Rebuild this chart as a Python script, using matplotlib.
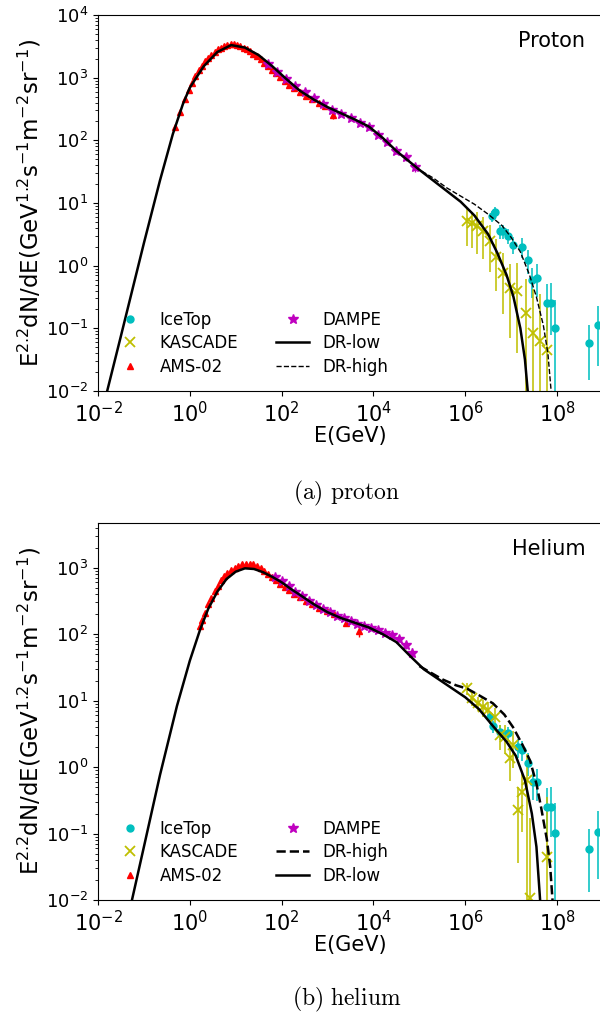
import numpy as np
import matplotlib
matplotlib.use("Agg")
import matplotlib.pyplot as plt

# ---- proton: log10(E/GeV) and log10(E^2.2 dN/dE) ----
p_low_logE = [-1.8, -1.5, -1.0, -0.65, -0.37, -0.15, 0.0, 0.3, 0.6, 0.9, 1.2, 1.5, 1.8, 2.1,
              2.4, 2.7, 3.0, 3.3, 3.6, 3.9, 4.2, 4.5, 4.8, 5.0, 5.3, 5.6, 5.9, 6.2, 6.5, 6.7,
              6.9, 7.05, 7.2, 7.3, 7.36, 7.4]
p_low_logF = [-2.0, -1.12, 0.36, 1.36, 2.10, 2.58, 2.84, 3.18, 3.41, 3.52, 3.48, 3.36, 3.18,
              2.98, 2.79, 2.65, 2.53, 2.43, 2.33, 2.22, 2.04, 1.83, 1.65, 1.53, 1.36, 1.19,
              1.02, 0.8, 0.5, 0.2, -0.15, -0.5, -1.0, -1.5, -2.0, -2.4]
p_high_logE = [4.8, 5.0, 5.3, 5.6, 5.9, 6.2, 6.5, 6.8, 7.0, 7.2, 7.4, 7.55, 7.7, 7.8, 7.87, 7.9]
p_high_logF = [1.65, 1.53, 1.40, 1.24, 1.11, 0.98, 0.82, 0.64, 0.45, 0.22, -0.15, -0.5, -0.95,
               -1.4, -2.0, -2.3]

p_ams_logE = [-0.32, -0.21, -0.10, -0.02, 0.05, 0.12, 0.19, 0.26, 0.33, 0.40, 0.47, 0.54, 0.61,
              0.68, 0.75, 0.82, 0.89, 0.96, 1.03, 1.10, 1.17, 1.24, 1.31, 1.38, 1.46, 1.54, 1.62,
              1.70, 1.79, 1.88, 1.97, 2.07, 2.17, 2.28, 2.40, 2.53, 2.67, 2.82, 2.95, 3.12]
p_ams_logF = [2.22, 2.45, 2.66, 2.80, 2.92, 3.02, 3.12, 3.19, 3.26, 3.31, 3.36, 3.41, 3.45, 3.48,
              3.51, 3.52, 3.53, 3.53, 3.52, 3.50, 3.48, 3.45, 3.42, 3.38, 3.34, 3.29, 3.24, 3.19,
              3.13, 3.07, 3.01, 2.95, 2.89, 2.83, 2.77, 2.71, 2.66, 2.60, 2.55, 2.40]
p_ams_err = [0.02] * 34 + [0.02, 0.02, 0.03, 0.03, 0.04, 0.06]

p_dampe_logE = [1.70, 1.90, 2.10, 2.30, 2.50, 2.70, 2.90, 3.10, 3.30, 3.50, 3.70, 3.90, 4.10,
                4.30, 4.50, 4.70, 4.90]
p_dampe_logF = [3.22, 3.09, 2.98, 2.87, 2.77, 2.67, 2.58, 2.49, 2.42, 2.36, 2.28, 2.21, 2.09,
                1.97, 1.83, 1.73, 1.57]
p_dampe_err = [0.02, 0.02, 0.02, 0.02, 0.02, 0.02, 0.02, 0.02, 0.03, 0.03, 0.03, 0.04, 0.04,
               0.05, 0.05, 0.06, 0.07]

p_kas_logE = [6.04, 6.15, 6.26, 6.39, 6.53, 6.68, 6.83, 6.98, 7.13, 7.33, 7.48, 7.63, 7.78]
p_kas_logF = [0.72, 0.68, 0.63, 0.56, 0.40, 0.14, -0.12, -0.35, -0.40, -0.76, -1.07, -1.20, -1.35]
p_kas_lo = [0.40, 0.40, 0.45, 0.45, 0.50, 0.55, 0.65, 0.80, 1.00, 1.60, 2.00, 2.00, 2.00]
p_kas_hi = [0.18, 0.18, 0.22, 0.22, 0.25, 0.28, 0.32, 0.38, 0.45, 0.55, 0.70, 0.75, 0.80]

p_ice_logE = [6.58, 6.64, 6.76, 6.83, 6.93, 7.04, 7.23, 7.37, 7.45, 7.56, 7.78, 7.86, 7.95,
              8.70, 8.90]
p_ice_logF = [0.80, 0.85, 0.55, 0.55, 0.48, 0.33, 0.30, 0.09, -0.23, -0.20, -0.60, -0.60,
              -1.00, -1.23, -0.95]
p_ice_lo = [0.10, 0.10, 0.12, 0.12, 0.14, 0.15, 0.18, 0.22, 0.28, 0.30, 0.45, 0.50, 1.20,
            0.60, 0.65]
p_ice_hi = [0.08, 0.08, 0.10, 0.10, 0.11, 0.12, 0.14, 0.16, 0.20, 0.22, 0.30, 0.32, 0.45,
            0.28, 0.30]

# ---- helium ----
h_low_logE = [-1.26, -1.0, -0.65, -0.28, 0.0, 0.22, 0.4, 0.6, 0.8, 1.0, 1.2, 1.4, 1.6, 1.8,
              2.0, 2.2, 2.4, 2.7, 3.0, 3.3, 3.6, 3.9, 4.2, 4.5, 4.8, 5.1, 5.4, 5.7, 6.0, 6.3,
              6.6, 6.9, 7.1, 7.3, 7.45, 7.55, 7.63, 7.66]
h_low_logF = [-2.0, -1.2, -0.12, 0.92, 1.60, 2.06, 2.38, 2.64, 2.83, 2.94, 2.99, 2.98, 2.93,
              2.86, 2.78, 2.68, 2.59, 2.45, 2.33, 2.24, 2.17, 2.10, 2.0, 1.88, 1.67, 1.47,
              1.33, 1.19, 1.05, 0.87, 0.62, 0.38, 0.17, -0.2, -0.7, -1.2, -2.0, -2.4]
h_high_logE = [5.0, 5.2, 5.5, 5.8, 6.04, 6.3, 6.6, 6.85, 7.04, 7.25, 7.41, 7.55, 7.65, 7.78,
               7.85, 7.9, 7.93]
h_high_logF = [1.52, 1.44, 1.32, 1.23, 1.18, 1.08, 0.96, 0.79, 0.60, 0.33, 0.10, -0.25, -0.6,
               -1.1, -1.5, -2.0, -2.4]

h_ams_logE = [0.22, 0.27, 0.33, 0.40, 0.47, 0.54, 0.61, 0.68, 0.75, 0.82, 0.90, 0.98, 1.06,
              1.14, 1.22, 1.30, 1.38, 1.46, 1.54, 1.62, 1.70, 1.79, 1.88, 1.97, 2.07, 2.17,
              2.28, 2.40, 2.53, 2.67, 2.82, 2.98, 3.15, 3.40, 3.68]
h_ams_logF = [2.12, 2.22, 2.32, 2.45, 2.55, 2.65, 2.73, 2.81, 2.87, 2.92, 2.97, 3.00, 3.03,
              3.05, 3.06, 3.06, 3.05, 3.02, 2.99, 2.95, 2.91, 2.86, 2.81, 2.76, 2.71, 2.66,
              2.61, 2.56, 2.50, 2.45, 2.40, 2.35, 2.30, 2.17, 2.04]
h_ams_err = [0.02] * 30 + [0.02, 0.03, 0.03, 0.05, 0.08]

h_dampe_logE = [1.85, 2.0, 2.15, 2.3, 2.45, 2.6, 2.75, 2.9, 3.05, 3.2, 3.35, 3.5, 3.65, 3.8,
                3.95, 4.1, 4.25, 4.4, 4.55, 4.7, 4.85]
h_dampe_logF = [2.86, 2.80, 2.72, 2.64, 2.57, 2.50, 2.44, 2.38, 2.33, 2.28, 2.24, 2.20, 2.16,
                2.12, 2.09, 2.06, 2.02, 1.98, 1.93, 1.84, 1.72]
h_dampe_err = [0.02] * 12 + [0.03, 0.03, 0.03, 0.04, 0.04, 0.05, 0.05, 0.06, 0.07]

h_kas_logE = [6.04, 6.15, 6.28, 6.39, 6.50, 6.65, 6.76, 6.87, 6.98, 7.04, 7.15, 7.23, 7.35,
              7.42, 7.78]
h_kas_logF = [1.19, 1.04, 0.96, 0.90, 0.86, 0.75, 0.48, 0.45, 0.14, 0.33, -0.65, -0.38, -0.20,
              -1.97, -1.35]
h_kas_lo = [0.10, 0.12, 0.12, 0.14, 0.15, 0.18, 0.22, 0.25, 0.35, 0.35, 0.80, 0.60, 2.00,
            2.00, 2.00]
h_kas_hi = [0.08, 0.10, 0.10, 0.11, 0.12, 0.14, 0.16, 0.18, 0.22, 0.22, 0.35, 0.30, 0.40,
            1.20, 0.90]

h_ice_logE = [6.54, 6.61, 6.76, 6.93, 7.15, 7.23, 7.37, 7.48, 7.56, 7.78, 7.86, 7.95, 8.70,
              8.90]
h_ice_logF = [0.75, 0.62, 0.53, 0.51, 0.30, 0.26, 0.06, -0.23, -0.23, -0.60, -0.60, -0.99,
              -1.23, -0.98]
h_ice_lo = [0.10, 0.10, 0.12, 0.13, 0.16, 0.17, 0.20, 0.26, 0.28, 0.40, 0.45, 1.20, 0.65,
            0.70]
h_ice_hi = [0.08, 0.08, 0.10, 0.10, 0.12, 0.13, 0.15, 0.18, 0.20, 0.28, 0.30, 0.45, 0.30,
            0.32]


def lin(v):
    return 10 ** np.asarray(v, dtype=float)


def asym(logF, lo, hi):
    f = lin(logF)
    return [f - f * lin(-np.asarray(lo)), f * lin(hi) - f]


def draw_panel(ax, d, name, ylim, order, high_lw):
    ax.errorbar(lin(d["ice_E"]), lin(d["ice_F"]), yerr=asym(d["ice_F"], d["ice_lo"], d["ice_hi"]),
                fmt="none", ecolor="c", elinewidth=1.4, alpha=0.8)
    ax.errorbar(lin(d["kas_E"]), lin(d["kas_F"]), yerr=asym(d["kas_F"], d["kas_lo"], d["kas_hi"]),
                fmt="none", ecolor="y", elinewidth=1.4, alpha=0.8)
    ax.errorbar(lin(d["ams_E"]), lin(d["ams_F"]), yerr=asym(d["ams_F"], d["ams_err"], d["ams_err"]),
                fmt="none", ecolor="r", elinewidth=1.0)
    ax.errorbar(lin(d["dampe_E"]), lin(d["dampe_F"]),
                yerr=asym(d["dampe_F"], d["dampe_err"], d["dampe_err"]),
                fmt="none", ecolor="m", elinewidth=1.0)

    h = {}
    h["IceTop"], = ax.plot(lin(d["ice_E"]), lin(d["ice_F"]), "o", color="c", ms=5, ls="none")
    h["KASCADE"], = ax.plot(lin(d["kas_E"]), lin(d["kas_F"]), "x", color="y", ms=7, mew=1.3, ls="none")
    h["AMS-02"], = ax.plot(lin(d["ams_E"]), lin(d["ams_F"]), "^", color="r", ms=5, ls="none")
    h["DAMPE"], = ax.plot(lin(d["dampe_E"]), lin(d["dampe_F"]), "*", color="m", ms=7, ls="none")
    h["DR-high"], = ax.plot(lin(d["high_E"]), lin(d["high_F"]), "--", color="k", lw=high_lw)
    h["DR-low"], = ax.plot(lin(d["low_E"]), lin(d["low_F"]), "-", color="k", lw=1.8)

    ax.set_xscale("log")
    ax.set_yscale("log")
    ax.set_xlim(1e-2, 1e9)
    ax.set_ylim(*ylim)
    ax.set_xticks([1e-2, 1e0, 1e2, 1e4, 1e6, 1e8])
    ax.xaxis.set_minor_locator(matplotlib.ticker.NullLocator())
    ax.tick_params(axis="x", labelsize=15)
    ax.tick_params(axis="y", labelsize=13)
    ax.spines["right"].set_visible(False)
    ax.set_xlabel("E(GeV)", fontsize=15, labelpad=0)
    ax.set_ylabel(r"E$^{2.2}$dN/dE(GeV$^{1.2}$s$^{-1}$m$^{-2}$sr$^{-1}$)", fontsize=16.5,
                  labelpad=2)
    ax.text(0.965, 0.93, name, transform=ax.transAxes, ha="right", va="center", fontsize=15)
    ax.legend([h[k] for k in order], order, ncol=2, frameon=False, fontsize=12,
              loc="lower left", bbox_to_anchor=(0.01, 0.014), borderaxespad=0.2,
              handlelength=2.0, handletextpad=0.8, columnspacing=2.25, labelspacing=0.33)


proton = dict(low_E=p_low_logE, low_F=p_low_logF, high_E=p_high_logE, high_F=p_high_logF,
              ams_E=p_ams_logE, ams_F=p_ams_logF, ams_err=p_ams_err,
              dampe_E=p_dampe_logE, dampe_F=p_dampe_logF, dampe_err=p_dampe_err,
              kas_E=p_kas_logE, kas_F=p_kas_logF, kas_lo=p_kas_lo, kas_hi=p_kas_hi,
              ice_E=p_ice_logE, ice_F=p_ice_logF, ice_lo=p_ice_lo, ice_hi=p_ice_hi)
helium = dict(low_E=h_low_logE, low_F=h_low_logF, high_E=h_high_logE, high_F=h_high_logF,
              ams_E=h_ams_logE, ams_F=h_ams_logF, ams_err=h_ams_err,
              dampe_E=h_dampe_logE, dampe_F=h_dampe_logF, dampe_err=h_dampe_err,
              kas_E=h_kas_logE, kas_F=h_kas_logF, kas_lo=h_kas_lo, kas_hi=h_kas_hi,
              ice_E=h_ice_logE, ice_F=h_ice_logF, ice_lo=h_ice_lo, ice_hi=h_ice_hi)

fig = plt.figure(figsize=(6.0, 10.15), dpi=100)
ax1 = fig.add_axes([98 / 600, 624 / 1015, 505 / 600, 376 / 1015])
ax2 = fig.add_axes([98 / 600, 115 / 1015, 505 / 600, 377 / 1015])

draw_panel(ax1, proton, "Proton", (1e-2, 1e4),
           ["IceTop", "KASCADE", "AMS-02", "DAMPE", "DR-low", "DR-high"], 1.0)
draw_panel(ax2, helium, "Helium", (1e-2, 4.7e3),
           ["IceTop", "KASCADE", "AMS-02", "DAMPE", "DR-high", "DR-low"], 1.8)

fig.text(0.578, 0.514, r"$\mathrm{(a)\ proton}$", ha="center", va="center", fontsize=17,
         math_fontfamily="cm")
fig.text(0.578, 0.015, r"$\mathrm{(b)\ helium}$", ha="center", va="center", fontsize=17,
         math_fontfamily="cm")

fig.savefig("out.png", dpi=100)
